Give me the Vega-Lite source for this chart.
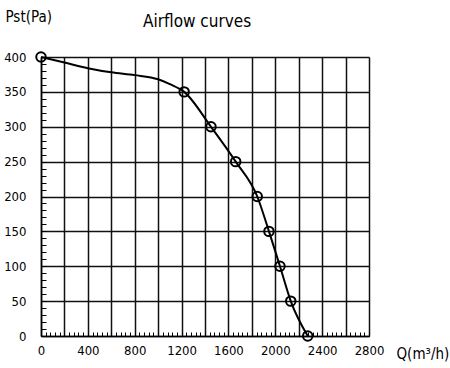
{
  "$schema": "https://vega.github.io/schema/vega-lite/v6.json",
  "width": 328,
  "height": 279,
  "autosize": {"type": "none"},
  "padding": {"left": 41, "top": 57, "right": 81, "bottom": 32},
  "background": "white",
  "config": {
    "view": {"stroke": null},
    "font": "DejaVu Sans Condensed, DejaVu Sans, sans-serif"
  },
  "title": {
    "text": "Airflow curves",
    "anchor": "start",
    "frame": "group",
    "dx": 102,
    "offset": -35,
    "baseline": "alphabetic",
    "fontSize": 17,
    "fontWeight": "normal",
    "font": "DejaVu Sans Condensed, DejaVu Sans, sans-serif",
    "color": "#000"
  },
  "data": {
    "values": [
      {"q": 0, "p": 400, "m": 1},
      {"q": 200, "p": 392, "m": 0},
      {"q": 400, "p": 384, "m": 0},
      {"q": 600, "p": 378, "m": 0},
      {"q": 800, "p": 374, "m": 0},
      {"q": 1000, "p": 368, "m": 0},
      {"q": 1100, "p": 361, "m": 0},
      {"q": 1222, "p": 350, "m": 1},
      {"q": 1451, "p": 300, "m": 1},
      {"q": 1662, "p": 250, "m": 1},
      {"q": 1846, "p": 200, "m": 1},
      {"q": 1946, "p": 150, "m": 1},
      {"q": 2040, "p": 100, "m": 1},
      {"q": 2132, "p": 50, "m": 1},
      {"q": 2277, "p": 0, "m": 1}
    ]
  },
  "encoding": {
    "x": {
      "field": "q",
      "type": "quantitative",
      "scale": {"domain": [0, 2800], "nice": false, "zero": false},
      "axis": {
        "title": "Q(m³/h)",
        "titleX": 355,
        "titleY": 22,
        "titleAlign": "left",
        "titleBaseline": "alphabetic",
        "titleFontSize": 15,
        "titleFontWeight": "normal",
        "titleColor": "#000",
        "values": [0,40,80,120,160,200,240,280,320,360,400,440,480,520,560,600,640,680,720,760,800,840,880,920,960,1000,1040,1080,1120,1160,1200,1240,1280,1320,1360,1400,1440,1480,1520,1560,1600,1640,1680,1720,1760,1800,1840,1880,1920,1960,2000,2040,2080,2120,2160,2200,2240,2280,2320,2360,2400,2440,2480,2520,2560,2600,2640,2680,2720,2760,2800],
        "format": "d",
        "labelExpr": "datum.value % 400 === 0 ? datum.label : ''",
        "labelFontSize": 13,
        "labelColor": "#000",
        "labelPadding": 12,
        "labelFlush": false,
        "labelOverlap": false,
        "tickSize": -4,
        "tickColor": "#000",
        "tickWidth": 1,
        "domainColor": "#000",
        "domainWidth": 1.5,
        "grid": true,
        "gridColor": "#111",
        "gridWidth": 1.5,
        "gridOpacity": {"condition": {"test": "datum.value % 200 === 0", "value": 1}, "value": 0}
      }
    },
    "y": {
      "field": "p",
      "type": "quantitative",
      "scale": {"domain": [0, 400], "nice": false},
      "axis": {
        "title": "Pst(Pa)",
        "titleX": -36,
        "titleY": -36,
        "titleAngle": 0,
        "titleAlign": "left",
        "titleBaseline": "alphabetic",
        "titleFontSize": 15,
        "titleFontWeight": "normal",
        "titleColor": "#000",
        "values": [0,10,20,30,40,50,60,70,80,90,100,110,120,130,140,150,160,170,180,190,200,210,220,230,240,250,260,270,280,290,300,310,320,330,340,350,360,370,380,390,400],
        "format": "d",
        "labelExpr": "datum.value % 50 === 0 ? datum.label : ''",
        "labelFontSize": 13,
        "labelColor": "#000",
        "labelPadding": 20,
        "labelFlush": false,
        "labelOverlap": false,
        "tickSize": -5,
        "tickColor": "#000",
        "tickWidth": 1,
        "domainColor": "#000",
        "domainWidth": 1.5,
        "grid": true,
        "gridColor": "#111",
        "gridWidth": 1.5,
        "gridOpacity": {"condition": {"test": "datum.value % 50 === 0", "value": 1}, "value": 0}
      }
    }
  },
  "layer": [
    {
      "mark": {"type": "line", "color": "#000", "strokeWidth": 2, "interpolate": "monotone"}
    },
    {
      "transform": [{"filter": "datum.m === 1"}],
      "mark": {"type": "point", "shape": "circle", "filled": false, "stroke": "#000", "strokeWidth": 2, "size": 90, "opacity": 1}
    }
  ]
}
